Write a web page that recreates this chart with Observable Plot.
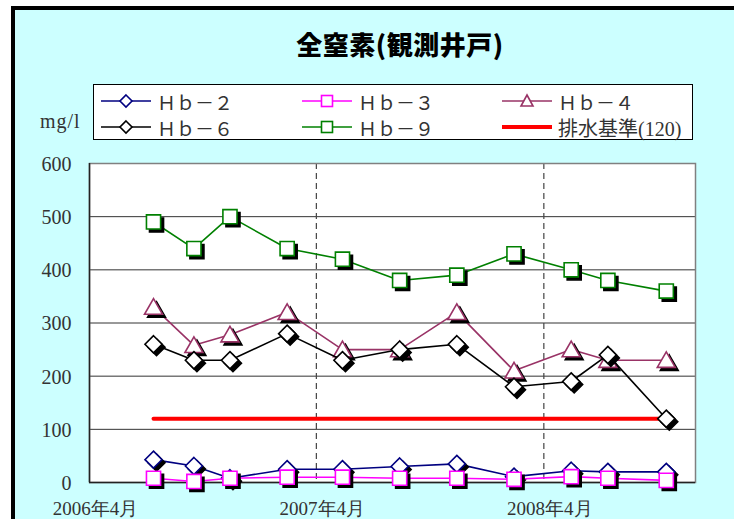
<!DOCTYPE html>
<html>
<head>
<meta charset="utf-8">
<script src="https://cdn.jsdelivr.net/npm/d3@7"></script>
<script src="https://cdn.jsdelivr.net/npm/@observablehq/plot@0.6"></script>
<style>
  html, body { margin: 0; padding: 0; background: #ffffff; }
  #page { position: relative; width: 734px; height: 519px; overflow: hidden; background: #ffffff; }
  #bg { position: absolute; left: 11px; top: 6px; width: 723px; height: 513px;
        background: #CCFFFF; border-top: 4px solid #000; border-left: 4px solid #000; box-sizing: border-box; }
  #title { position: absolute; left: 200px; width: 400px; top: 30px; text-align: center;
           font-family: "Noto Sans CJK JP", sans-serif; font-weight: 900; font-size: 26px; line-height: 28px; color: #000; letter-spacing: 0.5px; }
  #unit { position: absolute; left: 40px; top: 110px; font-family: "Liberation Serif", "DejaVu Serif", serif; font-size: 20px; color: #333; letter-spacing: 1px; }
  #legend { position: absolute; left: 93px; top: 84px; width: 600px; height: 56px; background: #fff;
            border: 1px solid #000; box-sizing: border-box; }
  .item { position: absolute; height: 26px; display: flex; align-items: center; }
  .item span { font-family: "Noto Sans CJK JP", "Liberation Serif", serif; font-size: 19px; color: #333; margin-left: 6px; white-space: nowrap; }
  .item span.std { font-family: "Liberation Serif", "Noto Sans CJK JP", serif; font-size: 20px; }
  #chart { position: absolute; left: 0; top: 150px; }
</style>
</head>
<body>
<div id="page">
  <div id="bg"></div>
  <div id="title">全窒素(観測井戸)</div>
  <div id="unit">mg/l</div>
  <div id="legend"></div>
  <div id="chart"></div>
</div>
<script>
// ---- data ----
const dates = ["2006-07-13", "2006-09-16", "2006-11-13", "2007-02-13", "2007-05-13", "2007-08-13",
               "2007-11-13", "2008-02-13", "2008-05-15", "2008-07-13", "2008-10-15"];
const hb2 = [43, 31, 8, 25, 25, 30, 35, 11, 22, 20, 20];
const hb3 = [8, 2, 8, 10, 10, 8, 8, 6, 11, 8, 4];
const hb4 = [330, 258, 278, 320, 250, 250, 320, 210, 250, 230, 230];
const hb6 = [260, 230, 230, 280, 230, 250, 260, 180, 190, 240, 120];
const hb9 = [490, 440, 500, 440, 420, 380, 390, 430, 400, 380, 360];
const standardValue = 120;
const standardLabel = "排水基準(120)";
const seriesNames = ["Ｈｂ－２", "Ｈｂ－３", "Ｈｂ－４", "Ｈｂ－６", "Ｈｂ－９"];
const seriesColors = ["#000080", "#FF00FF", "#993366", "#000000", "#008000"];
const seriesSymbols = ["diamond2", "square2", "triangle2", "diamond2", "square2"];
const yTicks = [0, 100, 200, 300, 400, 500, 600];
const xTickDates = ["2006-04-01", "2007-04-01", "2008-04-01"];
const xTickLabels = ["2006年4月", "2007年4月", "2008年4月"];
const dashedDates = ["2007-04-01", "2008-04-01"];
const xDomain = ["2006-04-01", "2008-12-01"];

// ---- build ----
const parse = s => new Date(s + "T00:00:00Z");
const allValues = [hb2, hb3, hb4, hb6, hb9];
const series = seriesNames.map((name, i) => ({
  name, color: seriesColors[i], symbol: seriesSymbols[i],
  rows: dates.map((d, j) => ({date: parse(d), value: allValues[i][j]}))
}));
const stdRows = [{date: parse(dates[0]), value: standardValue}, {date: parse(dates[dates.length - 1]), value: standardValue}];
const rVal = {diamond2: 7.7, square2: 9, triangle2: 8.6};
const dyVal = {diamond2: 0, square2: 0, triangle2: 2};
const tickFont = "'Liberation Serif', 'DejaVu Serif', serif";

const marks = [
  Plot.frame({fill: "#ffffff", stroke: null}),
  Plot.ruleY(yTicks.filter(v => v > 0 && v < 600), {stroke: "#333", strokeWidth: 1}),
  Plot.ruleX(dashedDates.map(parse), {stroke: "#444", strokeWidth: 1.2, strokeDasharray: "6,4"}),
  Plot.frame({stroke: "#808080", strokeWidth: 1.5}),
  Plot.ruleX([parse(xDomain[0])], {stroke: "#222", strokeWidth: 1.5}),
  Plot.ruleY([0], {stroke: "#222", strokeWidth: 1.5}),
  Plot.axisY({ticks: yTicks, tickSize: 0, tickPadding: 18, fontSize: 20, dy: 1, label: null, fontFamily: tickFont}),
  Plot.axisX({ticks: xTickDates.map(parse), tickFormat: d => xTickLabels[xTickDates.map(parse).findIndex(t => +t === +d)],
              tickSize: 0, tickPadding: 19, fontSize: 19, dx: 6, label: null, fontFamily: tickFont}),
  Plot.line(stdRows, {x: "date", y: "value", stroke: "#FF0000", strokeWidth: 4})
];
for (const s of series) {
  marks.push(Plot.line(s.rows, {x: "date", y: "value", stroke: s.color, strokeWidth: 1.6}));
  marks.push(Plot.dot(s.rows, {x: "date", y: "value", symbol: s.symbol, r: rVal[s.symbol], fill: "#000", stroke: "#000",
                                strokeWidth: 1.5, dx: 3, dy: 3 + dyVal[s.symbol]}));
  marks.push(Plot.dot(s.rows, {x: "date", y: "value", symbol: s.symbol, r: rVal[s.symbol], fill: "#fff", stroke: s.color,
                                strokeWidth: 1.6, dy: dyVal[s.symbol]}));
}

const chart = Plot.plot({
  width: 734, height: 369,
  marginLeft: 89, marginRight: 39, marginTop: 13, marginBottom: 37,
  x: {type: "utc", domain: xDomain.map(parse), label: null},
  y: {domain: [0, 600], label: null},
  style: {background: "transparent", fontFamily: tickFont, color: "#333", overflow: "visible"},
  marks
});
document.getElementById("chart").appendChild(chart);

// ---- legend ----
const legend = document.getElementById("legend");
const positions = [[7, 3], [208, 3], [408, 3], [7, 29], [208, 29]];
const symPaths = {
  diamond2: '<path d="M25,6 L31,12 L25,18 L19,12 Z" fill="#fff" stroke="C" stroke-width="1.6"/>',
  square2: '<rect x="19.5" y="6.5" width="11" height="11" fill="#fff" stroke="C" stroke-width="1.6"/>',
  triangle2: '<path d="M25,6 L31,17 L19,17 Z" fill="#fff" stroke="C" stroke-width="1.6"/>'
};
series.forEach((s, i) => {
  const d = document.createElement("div");
  d.className = "item";
  d.style.left = positions[i][0] + "px"; d.style.top = positions[i][1] + "px";
  d.innerHTML = `<svg width="50" height="24"><line x1="0" x2="50" y1="12" y2="12" stroke="${s.color}" stroke-width="1.6"/>${symPaths[s.symbol].replace("C", s.color)}</svg><span>${s.name}</span>`;
  legend.appendChild(d);
});
const st = document.createElement("div");
st.className = "item";
st.style.left = "408px"; st.style.top = "29px";
st.innerHTML = `<svg width="50" height="24"><line x1="0" x2="50" y1="12" y2="12" stroke="#FF0000" stroke-width="4"/></svg><span class="std">${standardLabel}</span>`;
legend.appendChild(st);
</script>
</body>
</html>
